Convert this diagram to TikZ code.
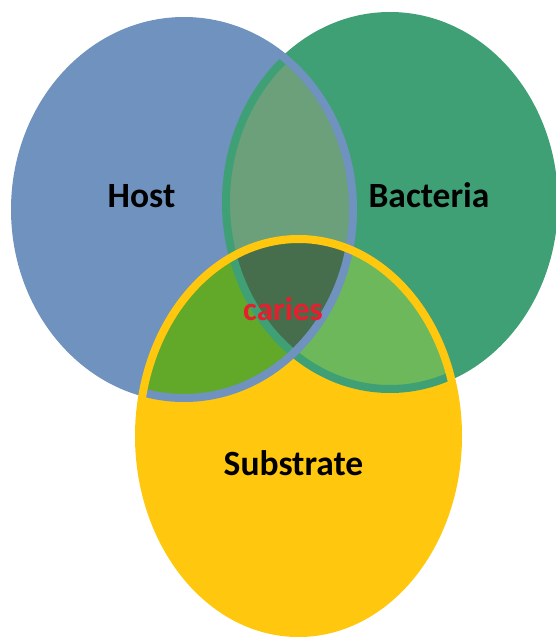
\documentclass[tikz,border=0pt]{standalone}
\usepackage{fontspec}
\setmainfont{Carlito}
\definecolor{hostblue}{RGB}{111,146,190}
\definecolor{bactgreen}{RGB}{63,160,118}
\definecolor{subyellow}{RGB}{255,200,14}
\definecolor{hbmix}{RGB}{108,160,123}
\definecolor{hsmix}{RGB}{98,169,41}
\definecolor{bsmix}{RGB}{108,184,90}
\definecolor{allmix}{RGB}{70,110,76}
\definecolor{cariesred}{RGB}{230,30,45}
\begin{document}
\begin{tikzpicture}[x=1pt,y=-1pt,
  rim/.style={line width=8pt},
  label/.style={font=\bfseries\fontsize{35.5}{36}\selectfont, text=black, inner sep=0pt, anchor=base}]
\useasboundingbox (0,0) rectangle (556,637);
\def\hostpath{(184,209.5) ellipse [x radius=169pt, y radius=188.5pt]}
\def\bactpath{(390,202.5) ellipse [x radius=164pt, y radius=186.5pt]}
\def\subpath{(298.5,436) ellipse [x radius=159.5pt, y radius=197pt]}
% base fills
\fill[hostblue] \hostpath;
\fill[bactgreen] \bactpath;
\fill[subyellow] \subpath;
% pairwise overlaps
\begin{scope}
  \clip \hostpath;
  \fill[hbmix] \bactpath;
  \fill[hsmix] \subpath;
\end{scope}
\begin{scope}
  \clip \bactpath;
  \fill[bsmix] \subpath;
\end{scope}
% centre overlap
\begin{scope}
  \clip \hostpath;
  \clip \bactpath;
  \fill[allmix] \subpath;
\end{scope}
% outlines
\draw[rim, bactgreen] \bactpath;
\draw[rim, hostblue] \hostpath;
\draw[rim, subyellow] \subpath;
% labels
\node[label] (host) at (141.5,207) {Host};
\node[label] (bacteria) at (429,207) {Bacteria};
\node[label] (substrate) at (293.5,475) {Substrate};
\node[label, text=cariesred, font=\bfseries\fontsize{33}{33}\selectfont] (caries) at (283,320) {caries};
\end{tikzpicture}
\end{document}
